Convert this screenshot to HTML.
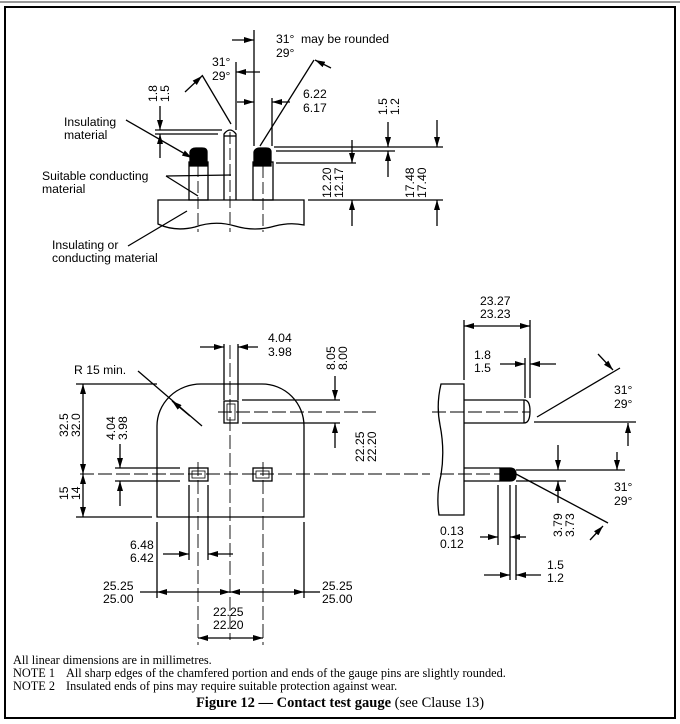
<!DOCTYPE html>
<html><head><meta charset="utf-8"><style>
body{margin:0;background:#fff}
svg{display:block}
.s{font-family:"Liberation Sans",sans-serif;font-size:12.2px;fill:#000}
.r{font-family:"Liberation Serif",serif;font-size:12.3px;fill:#000}
</style></head><body>
<svg width="680" height="724" viewBox="0 0 680 724" xmlns="http://www.w3.org/2000/svg">
<defs>
<marker id="a" markerWidth="10" markerHeight="6" refX="10" refY="3" orient="auto" markerUnits="userSpaceOnUse"><path d="M0,0 L10,3 L0,6Z" fill="#000"/></marker>
</defs>
<line x1="0" y1="2" x2="680" y2="2" stroke="#999" stroke-width="2"/>
<rect x="5" y="7" width="670" height="711" fill="none" stroke="#000" stroke-width="2"/>
<g stroke="#000" stroke-width="1.3" fill="none">
<!-- TOP VIEW -->
<path d="M158,200 H304 V225 Q290,222 275,226 Q255,232 235,226 Q215,220 195,227 Q175,232 158,224 Z"/>
<rect x="189" y="162" width="19" height="38"/>
<path d="M224,200 V134 Q230,126 236,134 V200"/>
<line x1="224" y1="136" x2="236" y2="136"/>
<rect x="253" y="162" width="20" height="38"/>
<path d="M190,166 V152 Q191,148 196,148 H202 Q207,148 207,152 V166 Z" fill="#000"/>
<path d="M254,166 V152 Q255,148 260,148 H266 Q271,148 271,152 V166 Z" fill="#000"/>
<g stroke-dasharray="12,4" stroke-width="0.9"><line x1="198" y1="165" x2="198" y2="232"/><line x1="230" y1="132" x2="230" y2="232"/><line x1="263" y1="150" x2="263" y2="232"/></g>
<line x1="254" y1="30" x2="254" y2="146"/><line x1="236" y1="62" x2="236" y2="130"/><line x1="272" y1="98" x2="272" y2="146"/>
<line x1="232" y1="40" x2="254" y2="40" marker-end="url(#a)"/>
<line x1="260" y1="72" x2="236" y2="72" marker-end="url(#a)"/>
<line x1="237" y1="102" x2="254" y2="102" marker-end="url(#a)"/>
<line x1="290" y1="102" x2="272" y2="102" marker-end="url(#a)"/>
<line x1="202" y1="75" x2="231" y2="124"/><line x1="185" y1="92" x2="202" y2="76" marker-end="url(#a)"/>
<line x1="314" y1="60" x2="260" y2="146"/><line x1="331" y1="68" x2="315" y2="60" marker-end="url(#a)"/>
<line x1="155" y1="130" x2="222" y2="130"/><line x1="155" y1="134" x2="218" y2="134"/>
<line x1="160" y1="106" x2="160" y2="130" marker-end="url(#a)"/><line x1="160" y1="158" x2="160" y2="134" marker-end="url(#a)"/>
<line x1="126" y1="120" x2="192" y2="158" marker-end="url(#a)"/>
<line x1="166" y1="176" x2="198" y2="196"/><line x1="166" y1="176" x2="231" y2="175"/>
<line x1="128" y1="246" x2="187" y2="211"/>
<line x1="274" y1="147" x2="443" y2="147"/><line x1="276" y1="151" x2="395" y2="151"/><line x1="276" y1="163" x2="356" y2="163"/><line x1="308" y1="200" x2="443" y2="200"/>
<line x1="388" y1="122" x2="388" y2="147" marker-end="url(#a)"/><line x1="388" y1="177" x2="388" y2="151" marker-end="url(#a)"/>
<line x1="352" y1="140" x2="352" y2="163" marker-end="url(#a)"/><line x1="352" y1="226" x2="352" y2="200" marker-end="url(#a)"/>
<line x1="437" y1="120" x2="437" y2="147" marker-end="url(#a)"/><line x1="437" y1="226" x2="437" y2="200" marker-end="url(#a)"/>
<!-- FRONT VIEW -->
<path d="M157,517 V426 A44,42 0 0 1 201,384 H262 A42,42 0 0 1 304,426 V517 Z"/>
<rect x="224" y="401" width="14" height="22"/><rect x="227" y="404" width="8" height="16" stroke-width="0.8"/>
<rect x="189" y="468" width="19" height="13"/><rect x="192" y="471" width="13" height="7" stroke-width="0.8"/>
<rect x="253" y="468" width="19" height="13"/><rect x="256" y="471" width="13" height="7" stroke-width="0.8"/>
<g stroke-dasharray="14,4" stroke-width="0.9"><line x1="230" y1="345" x2="230" y2="640"/><line x1="80" y1="474" x2="430" y2="474"/><line x1="218" y1="412" x2="380" y2="412"/><line x1="198" y1="462" x2="198" y2="645"/><line x1="263" y1="462" x2="263" y2="645"/></g>
<line x1="224" y1="344" x2="224" y2="400"/><line x1="238" y1="344" x2="238" y2="400"/>
<line x1="200" y1="347" x2="224" y2="347" marker-end="url(#a)"/><line x1="258" y1="347" x2="238" y2="347" marker-end="url(#a)"/>
<line x1="242" y1="400" x2="340" y2="400"/><line x1="242" y1="423" x2="340" y2="423"/>
<line x1="335" y1="376" x2="335" y2="400" marker-end="url(#a)"/><line x1="335" y1="448" x2="335" y2="423" marker-end="url(#a)"/>
<line x1="138" y1="371" x2="202" y2="426"/><line x1="190" y1="416" x2="172" y2="401" marker-end="url(#a)"/>
<line x1="76" y1="384" x2="157" y2="384"/><line x1="76" y1="517" x2="152" y2="517"/>
<line x1="83" y1="430" x2="83" y2="384" marker-end="url(#a)"/><line x1="83" y1="430" x2="83" y2="474" marker-end="url(#a)"/>
<line x1="83" y1="496" x2="83" y2="474" marker-end="url(#a)"/><line x1="83" y1="496" x2="83" y2="517" marker-end="url(#a)"/>
<line x1="115" y1="468" x2="180" y2="468"/><line x1="115" y1="481" x2="180" y2="481"/>
<line x1="120" y1="444" x2="120" y2="468" marker-end="url(#a)"/><line x1="120" y1="506" x2="120" y2="481" marker-end="url(#a)"/>
<line x1="189" y1="485" x2="189" y2="560"/><line x1="208" y1="485" x2="208" y2="560"/>
<line x1="163" y1="554" x2="189" y2="554" marker-end="url(#a)"/><line x1="233" y1="554" x2="208" y2="554" marker-end="url(#a)"/>
<line x1="157" y1="522" x2="157" y2="598"/><line x1="304" y1="522" x2="304" y2="598"/>
<line x1="140" y1="592" x2="157" y2="592"/><line x1="194" y1="592" x2="157" y2="592" marker-end="url(#a)"/><line x1="194" y1="592" x2="230" y2="592" marker-end="url(#a)"/>
<line x1="320" y1="592" x2="304" y2="592"/><line x1="267" y1="592" x2="230" y2="592" marker-end="url(#a)"/><line x1="267" y1="592" x2="304" y2="592" marker-end="url(#a)"/>
<line x1="230" y1="638" x2="198" y2="638" marker-end="url(#a)"/><line x1="230" y1="638" x2="263" y2="638" marker-end="url(#a)"/>
<!-- SIDE VIEW -->
<path d="M464,384 V515 H439 Q436,495 441,475 Q445,450 440,425 Q436,405 441,384 Z"/>
<path d="M464,400 H524 Q530,400 530,411 Q530,423 524,423 H464"/><line x1="524" y1="400" x2="524" y2="423"/>
<g stroke-dasharray="14,4" stroke-width="0.9"><line x1="432" y1="412" x2="530" y2="412"/><line x1="440" y1="474" x2="500" y2="474"/></g>
<path d="M464,468 H500 M464,481 H500"/>
<path d="M500,468 H510 Q516,468 516,474.5 Q516,481 510,481 H500 Z" fill="#000"/>
<line x1="537" y1="417" x2="620" y2="368"/><line x1="598" y1="354" x2="613" y2="370" marker-end="url(#a)"/>
<line x1="534" y1="422" x2="636" y2="422"/><line x1="628" y1="446" x2="628" y2="423" marker-end="url(#a)"/>
<line x1="516" y1="470" x2="625" y2="470"/><line x1="516" y1="481" x2="566" y2="481"/>
<line x1="516" y1="474" x2="608" y2="523"/><line x1="590" y1="540" x2="603" y2="526" marker-end="url(#a)"/>
<line x1="558" y1="445" x2="558" y2="470" marker-end="url(#a)"/><line x1="558" y1="503" x2="558" y2="481" marker-end="url(#a)"/>
<line x1="617" y1="452" x2="617" y2="470" marker-end="url(#a)"/>
<line x1="464" y1="320" x2="464" y2="380"/><line x1="530" y1="320" x2="530" y2="398"/>
<line x1="497" y1="326" x2="464" y2="326" marker-end="url(#a)"/><line x1="497" y1="326" x2="530" y2="326" marker-end="url(#a)"/>
<line x1="525" y1="358" x2="525" y2="398"/>
<line x1="500" y1="364" x2="525" y2="364" marker-end="url(#a)"/><line x1="556" y1="364" x2="530" y2="364" marker-end="url(#a)"/>
<line x1="498" y1="485" x2="498" y2="545"/><line x1="510" y1="485" x2="510" y2="580"/><line x1="516" y1="485" x2="516" y2="580"/>
<line x1="480" y1="537" x2="498" y2="537" marker-end="url(#a)"/><line x1="526" y1="537" x2="510" y2="537" marker-end="url(#a)"/>
<line x1="484" y1="575" x2="510" y2="575" marker-end="url(#a)"/><line x1="541" y1="575" x2="516" y2="575" marker-end="url(#a)"/>
</g>
<g class="s">
<text x="276" y="43">31°</text><text x="276" y="57">29°</text><text x="301" y="43">may be rounded</text>
<text x="212" y="66">31°</text><text x="212" y="80">29°</text>
<text x="303" y="98">6.22</text><text x="303" y="112">6.17</text>
<text x="64" y="126">Insulating</text><text x="64" y="139">material</text>
<text x="42" y="180">Suitable conducting</text><text x="42" y="193">material</text>
<text x="52" y="249">Insulating or</text><text x="52" y="262">conducting material</text>
<text transform="translate(157,102) rotate(-90)">1.8</text><text transform="translate(169,102) rotate(-90)">1.5</text>
<text transform="translate(387,115) rotate(-90)">1.5</text><text transform="translate(399,115) rotate(-90)">1.2</text>
<text transform="translate(331,198) rotate(-90)">12.20</text><text transform="translate(343,198) rotate(-90)">12.17</text>
<text transform="translate(414,198) rotate(-90)">17.48</text><text transform="translate(426,198) rotate(-90)">17.40</text>
<text x="268" y="342">4.04</text><text x="268" y="356">3.98</text>
<text transform="translate(335,370) rotate(-90)">8.05</text><text transform="translate(347,370) rotate(-90)">8.00</text>
<text transform="translate(364,462) rotate(-90)">22.25</text><text transform="translate(376,462) rotate(-90)">22.20</text>
<text x="74" y="374">R 15 min.</text>
<text transform="translate(68,437) rotate(-90)">32.5</text><text transform="translate(80,437) rotate(-90)">32.0</text>
<text transform="translate(68,500) rotate(-90)">15</text><text transform="translate(80,500) rotate(-90)">14</text>
<text transform="translate(115,440) rotate(-90)">4.04</text><text transform="translate(127,440) rotate(-90)">3.98</text>
<text x="130" y="549">6.48</text><text x="130" y="562">6.42</text>
<text x="103" y="590">25.25</text><text x="103" y="603">25.00</text>
<text x="322" y="590">25.25</text><text x="322" y="603">25.00</text>
<text x="213" y="616">22.25</text><text x="213" y="629">22.20</text>
<text x="480" y="305">23.27</text><text x="480" y="318">23.23</text>
<text x="474" y="359">1.8</text><text x="474" y="372">1.5</text>
<text x="614" y="394">31°</text><text x="614" y="408">29°</text>
<text x="614" y="491">31°</text><text x="614" y="505">29°</text>
<text transform="translate(562,537) rotate(-90)">3.79</text><text transform="translate(574,537) rotate(-90)">3.73</text>
<text x="440" y="535">0.13</text><text x="440" y="548">0.12</text>
<text x="547" y="569">1.5</text><text x="547" y="582">1.2</text>
</g>
<g class="r">
<text x="13" y="664">All linear dimensions are in millimetres.</text>
<text x="13" y="677">NOTE 1</text><text x="66" y="677">All sharp edges of the chamfered portion and ends of the gauge pins are slightly rounded.</text>
<text x="13" y="690">NOTE 2</text><text x="66" y="690">Insulated ends of pins may require suitable protection against wear.</text>
<text x="340" y="707" text-anchor="middle" font-size="14.5"><tspan font-weight="bold">Figure 12 — Contact test gauge</tspan> (see Clause 13)</text>
</g>
</svg>
</body></html>
